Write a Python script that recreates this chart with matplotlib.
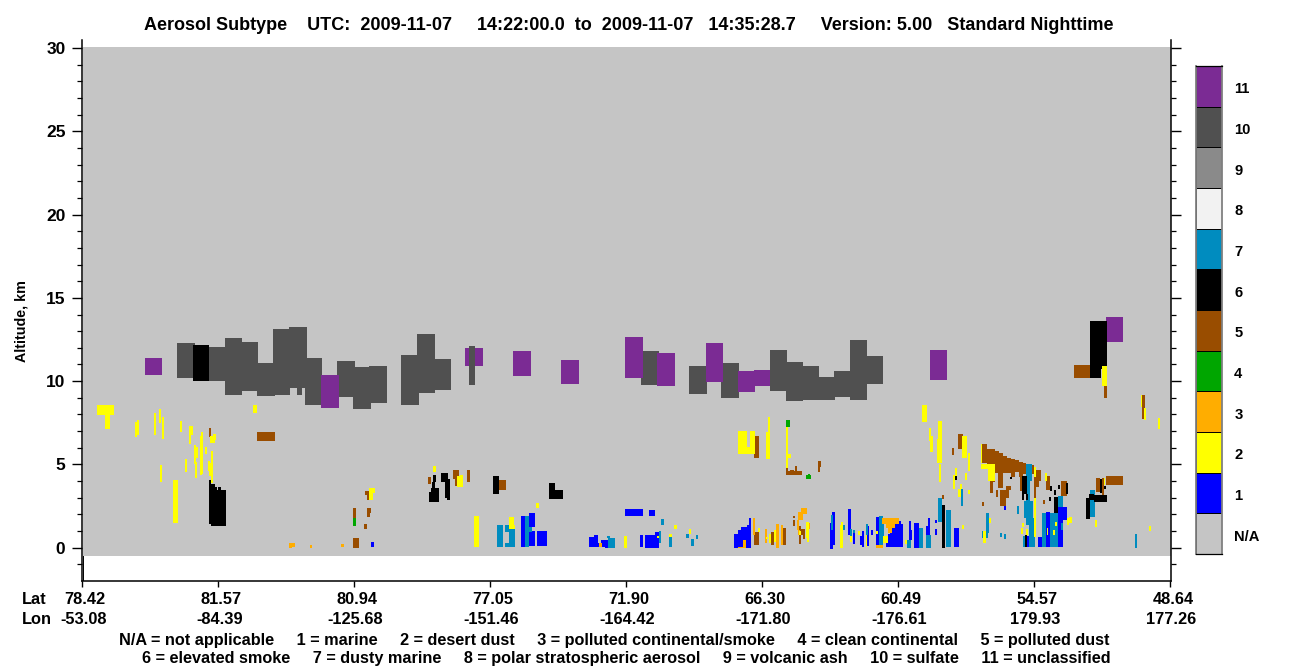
import matplotlib
matplotlib.use("Agg")
import matplotlib.pyplot as plt
from matplotlib.ticker import MultipleLocator

plt.rcParams['font.family'] = ['Liberation Sans', 'DejaVu Sans']
plt.rcParams['font.weight'] = 'bold'

# Each cell: along-track start, along-track end, altitude bottom (km), altitude top (km)
na_region = [(83, 1170.7, -0.5, 30.05)]

sulfate = [
 (177,195,10.19,12.29),(209,225,10.01,12.05),(225,242,9.17,12.59),(242,258,9.41,12.35),
 (257,275,9.11,11.09),(273,290,9.17,13.13),(289,307,9.59,13.25),(297,302,9.17,9.59),
 (305,322,8.57,11.39),(337,355,9.05,11.21),(353,371,8.33,10.85),(369,387,8.69,10.91),
 (401,419,8.57,11.57),(417,435,9.29,12.83),(435,451,9.47,11.33),
 (641,659,9.77,11.81),(689,707,9.23,10.91),(721,739,8.99,11.09),(770,787,9.41,11.87),
 (786,803,8.81,11.15),(803,819,8.87,10.91),(819,835,8.87,10.25),(834,851,9.05,10.61),
 (850,867,8.87,12.47),(866,883,9.83,11.51),
]
unclassified = [
 (145,162,10.37,11.39),(321,339,8.39,10.37),(465,483,10.91,11.99),(513,531,10.31,11.81),
 (561,579,9.83,11.27),(625,643,10.19,12.65),(657,675,9.71,11.69),(706,723,9.95,12.29),
 (738,755,9.35,10.61),(754,770,9.71,10.67),(930,947,10.07,11.87),(1106,1123,12.35,13.85),
]
sulfate_over = [(469,475,9.77,12.11)]

marine = [
 (371,374,.05,.35),(521,525,.05,1.91),(529,535,1.25,2.09),(529,535,.11,1.01),(537,547,.11,1.01),
 (625,643,1.91,2.33),(649,655,1.91,2.27),(589,594,.05,.65),(594,598,.05,.77),(598,601,.05,.29),
 (601,608,.05,.47),(605,609,-.01,.1),(640,643,.05,.77),(645,659,0,.77),(655,659,.77,.95),
 (734,738,0,.84),(738,741,0,1.08),(741,747,0,1.26),(747,751,0,1.38),(749,751,1.38,1.8),
 (830,833,-.06,1.48),(832,835,.18,2.16),(848,851,.78,2.34),(853,855,.24,.9),(860,864,.18,.72),
 (862,864,.06,1.02),(866,869,.12,1.32),(871,873,.78,1.08),(876,880,.18,1.86),(886,888,.06,.36),
 (890,903,.06,1.44),(888,890,.06,.84),(895,897,1.44,1.68),(899,901,1.44,1.62),
 (909,911,.48,1.62),(910,912,.48,1.08),(914,919,0,1.5),(928,930,.78,1.8),(926,928,.78,1.32),
 (935,937,1.5,1.68),(935,937,.78,1.14),(954,959,.06,1.2),(1004,1006,2.27,2.51),
 (1027,1030,.02,.68),(1038,1042,.02,.66),(1046,1050,.02,2.16),(1058,1063,.02,2.22),
 (1063,1067,1.68,2.46),(1058,1063,2.22,2.46),
]
desert_dust = [
 (97,114,7.97,8.57),(105,110,7.13,7.97),(135,137,6.65,7.55),(137,139,6.77,7.67),(154,156,6.77,8.09),
 (159,161,7.49,8.33),(162,164,6.53,7.85),(180,182,6.95,7.61),(189,193,6.77,7.31),(189,191,6.23,6.77),
 (194,196,5.03,6.17),(196,198,5.41,6.05),(195,197,4.19,5.15),(185,187,4.55,5.33),(200,202,4.37,6.71),
 (201,203,4.43,6.95),(205,207,5.63,6.05),(160,162,3.95,4.97),(173,178,1.49,4.07),(210,215,6.29,6.71),
 (213,216,6.47,6.83),(208,210,4.61,5.23),(209,211,4.31,5.11),(211,213,3.89,5.81),(253,257,8.09,8.57),
 (369,375,3.29,3.59),(369,373,2.87,3.29),(433,436,4.55,4.91),(457,463,3.65,4.31),(460,463,3.65,4.37),
 (474,479,.05,1.91),(509,515,1.13,1.37),(509,514,1.37,1.85),(536,539,2.39,2.69),(624,627,0,.71),
 (657,659,.59,.71),(669,672,.65,.83),(674,677,1.13,1.37),(689,691,.83,1.13),
 (738,747,5.63,7.01),(747,750,5.63,6.05),(750,755,5.63,7.01),(766,770,5.33,6.95),(768,770,6.95,7.85),
 (786,788,4.79,7.43),(788,791,5.39,5.63),(758,760,.96,1.2),(769,771,.3,.84),(774,776,.36,1.08),
 (766,768,.54,.66),(806,809,.6,1.56),(807,809,.36,.6),(799,801,.78,1.02),
 (840,843,0,1.38),(841,843,1.38,1.56),(850,852,.36,.72),(858,860,.78,1.02),(866,867,.06,.78),
 (876,878,.84,1.02),(883,888,.3,.72),(905,907,.2,.45),
 (922,927,7.55,8.57),(938,942,5.09,7.61),(937,941,5.09,6.53),(929,931,6.41,7.19),(930,933,5.75,6.71),
 (962,967,5.39,6.71),(968,970,4.61,5.69),(939,941,3.95,5.03),(955,957,4.31,4.79),(953,955,3.53,4.37),
 (965,967,4.07,4.49),(960,962,3.53,3.83),(958,961,3.05,3.53),(968,970,3.23,3.47),(962,964,1.14,1.38),
 (981,982,5.09,6.23),(981,995,4.73,5.03),(988,995,4.01,4.73),(1045,1047,4.0,4.5),
 (1034,1036,4.26,4.86),(1034,1036,.66,3.0),(1022,1024,1.26,1.5),(1021,1023,.84,1.2),(1026,1028,.78,1.14),
 (1053,1055,.78,1.08),(1055,1057,1.32,1.56),(1047,1048,.78,1.2),(1067,1069,1.38,1.8),(1069,1072,1.5,1.86),
 (1095,1097,1.26,1.68),(1104,1105,3.78,4.2),(1149,1151,1.01,1.31),(1102,1107,9.71,10.91),
 (1141,1142,8.45,9.17),(1144,1146,7.67,8.39),(1158,1160,7.13,7.79),
 (983,986,.3,1.0),(989,991,1.5,1.8),
]
polluted_cont = [
 (289,292,0,.29),(292,295,.05,.29),(310,312,0,.17),(341,344,.05,.23),(599,602,.05,.29),(743,746,0,.48),
 (738,743,0,.06),(753,755,.78,1.8),(765,767,.3,1.14),(776,779,0,1.44),(781,783,.18,1.38),
 (797,799,1.08,1.68),(798,803,1.68,2.16),(801,807,2.0,2.4),(798,800,.78,1.08),(808,810,1.1,1.5),
 (876,883,0,.18),(882,899,1.44,1.8),(886,895,1.2,1.44),(888,892,.9,1.2),
]
clean_cont = [(353,356,1.31,1.79),(786,790,7.25,7.67),(806,811,4.13,4.37),(808,810,4.37,4.45)]
polluted_dust = [
 (257,275,6.41,6.95),(209,211,6.65,7.19),(353,359,0,.59),(353,356,1.79,2.39),(367,371,2.09,2.39),
 (367,370,1.85,2.09),(364,367,1.13,1.43),(365,369,3.17,3.41),(367,369,2.87,3.17),
 (428,431,3.83,4.25),(453,459,4.13,4.67),(455,457,3.71,4.13),(467,470,3.95,4.67),(497,506,3.47,4.07),
 (754,759,.18,.96),(771,774,.18,.96),(781,786,.18,1.2),(793,795,1.8,1.9),(793,795,1.32,1.68),
 (799,801,.23,1.3),(798,805,.78,1.1),(803,805,.5,.78),(754,759,5.39,6.71),
 (786,802,4.37,4.61),(786,788,4.61,4.79),(795,797,4.61,4.91),(790,794,4.61,4.67),(818,821,4.85,5.21),(818,820,4.55,4.85),
 (942,944,2.94,3.18),(958,963,5.93,6.83),(952,954,5.57,5.99),
 (982,987,5.09,6.23),(987,995,4.97,5.93),(995,999,4.49,5.81),(998,1003,3.59,5.69),(1003,1007,4.49,5.51),
 (1007,1011,4.49,5.39),(1011,1015,4.25,5.33),(1015,1019,4.55,5.27),(1019,1023,4.25,5.15),(1023,1026,4.4,5.1),
 (1020,1022,3.41,4.55),(1032,1034,4.4,4.97),(1034,1041,4.01,4.67),(1034,1039,3.66,4.01),(1034,1036,3.0,3.66),
 (990,995,3.95,4.31),(990,993,3.29,3.95),(996,998,3.05,3.47),(1000,1006,2.51,3.47),(1006,1011,3.47,3.71),
 (1006,1009,2.99,3.47),(982,984,2.51,2.75),(1043,1045,2.64,2.88),(1046,1050,3.48,4.32),
 (1061,1067,3.12,4.02),(1096,1100,3.36,4.2),(1102,1104,3.18,4.2),(1106,1123,3.78,4.3),
 (1074,1090,10.19,10.97),(1104,1107,9.0,10.55),(1142,1145,7.73,9.17),
]
elevated_smoke = [
 (193,209,10.01,12.17),(209,211,1.43,4.07),(211,215,1.31,3.83),(215,217,1.31,3.65),
 (217,226,1.31,3.47),(218,221,3.47,3.65),(433,436,3.95,4.37),(432,435,3.59,3.95),(431,439,3.35,3.59),
 (429,439,2.75,3.35),(441,448,3.95,4.49),(445,450,2.99,4.13),(447,450,2.87,2.99),(493,499,3.23,4.31),
 (549,555,2.93,3.89),(555,563,2.93,3.47),(942,945,-.04,2.58),(955,957,4.07,4.31),
 (1010,1012,4.13,4.25),(1022,1027,3.24,4.32),(1022,1024,2.88,3.24),(1026,1028,2.88,3.24),(1025,1027,.02,.78),
 (1050,1052,3.42,3.72),(1049,1051,2.82,3.06),(1054,1056,3.18,3.48),(1058,1060,3.54,3.78),(1066,1068,3.24,3.9),
 (1054,1058,2.1,3.06),(1086,1090,1.74,3.0),(1089,1094,2.88,3.24),(1094,1107,2.76,3.18),(1100,1102,3.3,4.14),
 (1104,1106,3.5,3.68),(1090,1101,10.19,13.61),(1101,1107,10.73,13.61),
]
dusty_marine = [
 (497,503,.05,1.37),(505,509,.05,.29),(505,509,.96,1.37),(509,515,.05,1.13),(525,529,.05,1.91),(529,532,.95,1.25),
 (608,615,-.01,.59),(607,610,.59,.7),(659,661,.29,1.01),(669,672,.05,.65),(661,664,1.37,1.73),(686,689,.59,.83),
 (691,694,.11,.53),(696,698,.53,.77),
 (831,833,1.08,1.98),(843,845,1.08,1.38),(850,852,.72,1.14),(853,855,.9,1.08),(866,868,.78,1.44),
 (879,883,.08,1.92),(883,884,.72,1.58),(907,911,0,.48),(919,923,0,1.2),(926,931,0,.78),
 (938,942,1.56,2.99),(946,951,.06,2.28),(961,963,2.51,3.53),
 (982,984,.58,1.0),(986,989,.9,2.08),(985,988,.6,.95),(1000,1002,.65,.9),(1004,1006,.5,.8),
 (1017,1019,2.04,2.48),(1026,1030,1.38,5.04),(1024,1033,1.78,2.78),(1029,1035,.02,1.78),(1030,1032,4.0,5.04),
 (1023,1025,.02,.68),(1042,1046,.02,2.1),(1050,1058,.02,2.1),(1058,1063,2.46,3.12),(1061,1063,1.08,1.5),
 (1090,1095,1.86,3.48),(1135,1137,0,.83),
]

class_layers = [
 (sulfate, 10), (unclassified, 11), (sulfate_over, 10), (marine, 1), (dusty_marine, 7), (polluted_dust, 5),
 (polluted_cont, 3), (elevated_smoke, 6), (desert_dust, 2), (clean_cont, 4),
]

colorbar_codes = ['N/A', '1', '2', '3', '4', '5', '6', '7', '8', '9', '10', '11']
colorbar_colors = ['#C5C5C5', '#0000FF', '#FFFF00', '#FFAD00', '#00A600', '#994D00',
                   '#000000', '#008CBF', '#F2F2F2', '#8A8A8A', '#505050', '#7B2B94']
code_color = dict(zip(colorbar_codes, colorbar_colors))

tick_pos = [82, 218, 354, 490, 626, 762, 898, 1034, 1170]
lat_labels = ['78.42', '81.57', '80.94', '77.05', '71.90', '66.30', '60.49', '54.57', '48.64']
lon_labels = ['-53.08', '-84.39', '-125.68', '-151.46', '-164.42', '-171.80', '-176.61', '179.93', '177.26']

title = ('Aerosol Subtype    UTC:  2009-11-07     14:22:00.0  to  2009-11-07   14:35:28.7     '
         'Version: 5.00   Standard Nighttime')
key1 = ('N/A = not applicable     1 = marine     2 = desert dust     3 = polluted continental/smoke     '
        '4 = clean continental     5 = polluted dust')
key2 = ('6 = elevated smoke     7 = dusty marine     8 = polar stratospheric aerosol     '
        '9 = volcanic ash     10 = sulfate     11 = unclassified')

W, H = 1300, 667
fig = plt.figure(figsize=(W / 100, H / 100), dpi=100)
ax = fig.add_axes([81.7 / W, 1 - 580.7 / H, 1089 / W, 540.7 / H])


def draw_cells(cells, color):
    ax.bar([c[0] for c in cells], [c[3] - c[2] for c in cells], width=[c[1] - c[0] for c in cells],
           bottom=[c[2] for c in cells], align='edge', color=color, linewidth=0, antialiased=False)


draw_cells(na_region, code_color['N/A'])
for cells, code in class_layers:
    draw_cells(cells, code_color[str(code)])

ax.plot([83, 83], [-1.98, -0.5], color='black', lw=0.7)
ax.set_xlim(81.7, 1170.7)
ax.set_ylim(-1.98, 30.48)
ax.set_xticks(tick_pos)
ax.set_xticklabels([])
ax.set_yticks([0, 5, 10, 15, 20, 25, 30])
ax.yaxis.set_minor_locator(MultipleLocator(1))
ax.tick_params(axis='y', which='major', left=True, right=True, length=7.2, width=1.0, labelsize=12.5, pad=4.5)
ax.tick_params(axis='y', which='minor', left=True, right=True, length=3.8, width=0.9)
ax.tick_params(axis='x', which='major', length=4.5, width=1.0)
ax.spines['top'].set_visible(False)
for s in ('left', 'right', 'bottom'):
    ax.spines[s].set_linewidth(1.1)

fig.text(22 / W, 1 - 321 / H, 'Altitude, km', rotation=90, ha='center', va='center', fontsize=10.3)
fig.text(144 / W, 1 - 25 / H, title, ha='left', va='center', fontsize=13)
fig.text(22 / W, 1 - 599 / H, 'Lat', ha='left', va='center', fontsize=11.8)
fig.text(22 / W, 1 - 619 / H, 'Lon', ha='left', va='center', fontsize=11.8)
for p, la, lo in zip(tick_pos, lat_labels, lon_labels):
    fig.text((p + 3) / W, 1 - 599 / H, la, ha='center', va='center', fontsize=11.8)
    fig.text((p + 1.5) / W, 1 - 619 / H, lo, ha='center', va='center', fontsize=11.8)
fig.text(614.5 / W, 1 - 640 / H, key1, ha='center', va='center', fontsize=11.7)
fig.text(626 / W, 1 - 658 / H, key2, ha='center', va='center', fontsize=11.7)

cax = fig.add_axes([1196 / W, 1 - 554 / H, 26 / W, 488 / H])
cpos = list(range(len(colorbar_codes)))
cax.barh(cpos, [1] * len(cpos), height=1, left=0, align='edge', color=colorbar_colors,
         edgecolor='black', linewidth=0.7)
cax.set_xlim(0, 1)
cax.set_ylim(0, 12)
cax.set_xticks([])
cax.set_yticks([])
for s in ('left', 'right'):
    cax.spines[s].set_color('#808080')
    cax.spines[s].set_linewidth(1.3)
for s in ('top', 'bottom'):
    cax.spines[s].set_color('black')
    cax.spines[s].set_linewidth(0.9)
for i, code in enumerate(colorbar_codes):
    cax.text(1.47, i + 0.43, code, ha='left', va='center', fontsize=10.6, clip_on=False)

fig.savefig('out.png', dpi=100, facecolor='white')
